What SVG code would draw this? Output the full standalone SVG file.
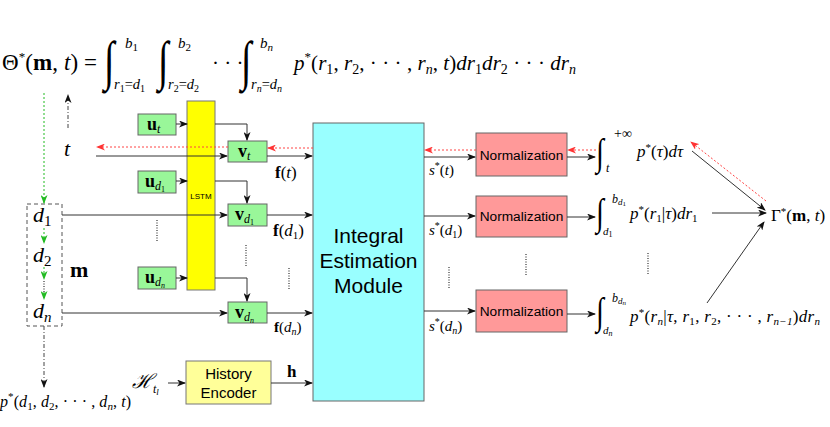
<svg xmlns="http://www.w3.org/2000/svg" width="830" height="427" viewBox="0 0 830 427">
<style>
.m{font-family:"Liberation Serif","Times New Roman",serif;font-style:italic;fill:#000}
.r{font-style:normal}
.b{font-weight:bold;font-style:normal}
.s{font-family:"Liberation Sans",Arial,sans-serif;fill:#000}
.int{font-family:"Liberation Serif",serif;font-style:normal;fill:#000}
.ln{stroke:#333;stroke-width:1;fill:none}
.red{stroke:#FF4444;stroke-width:1;stroke-dasharray:2,2;fill:none}
.grn{stroke:#22BB22;stroke-width:1;stroke-dasharray:2,2;fill:none}
.dd{stroke:#444;stroke-width:1;stroke-dasharray:4,2,1,2;fill:none}
.dots{stroke:#333;stroke-width:1.2;stroke-dasharray:1,1.5;fill:none}
.gbox{fill:#99F799;stroke:#666;stroke-width:1}
.nbox{fill:#FF9999;stroke:#666;stroke-width:1}
</style>
<defs>
<marker id="ah" markerWidth="9" markerHeight="7" refX="8" refY="3.5" orient="auto" markerUnits="userSpaceOnUse"><path d="M0,0 L9,3.5 L0,7 L2.5,3.5 z" fill="#111"/></marker>
<marker id="ahr" markerWidth="9" markerHeight="7" refX="8" refY="3.5" orient="auto" markerUnits="userSpaceOnUse"><path d="M0,0 L9,3.5 L0,7 L2.5,3.5 z" fill="#FF3333"/></marker>
<marker id="ahg" markerWidth="9" markerHeight="7" refX="8" refY="3.5" orient="auto" markerUnits="userSpaceOnUse"><path d="M0,0 L9,3.5 L0,7 L2.5,3.5 z" fill="#22BB22"/></marker>
</defs>

<!-- top formula -->
<g id="formula-theta">
<text class="m" x="2" y="70" font-size="23" textLength="95" lengthAdjust="spacing"><tspan class="r">Θ</tspan><tspan class="r" font-size="13" dy="-9">*</tspan><tspan class="r" dy="9">(</tspan><tspan class="b">m</tspan><tspan class="r">, </tspan>t<tspan class="r">) =</tspan></text>
<text class="int" transform="translate(104,78.5) scale(0.8,1.13)" font-size="48">∫</text>
<text class="m" x="125" y="48" font-size="15">b<tspan class="r" font-size="11" dy="3">1</tspan></text>
<text class="m" x="114" y="89" font-size="14.5">r<tspan class="r" font-size="10" dy="3">1</tspan><tspan class="r" dy="-3">=</tspan>d<tspan class="r" font-size="10" dy="3">1</tspan></text>
<text class="int" transform="translate(158,78.5) scale(0.8,1.13)" font-size="48">∫</text>
<text class="m" x="178" y="48" font-size="15">b<tspan class="r" font-size="11" dy="3">2</tspan></text>
<text class="m" x="168" y="89" font-size="14.5">r<tspan class="r" font-size="10" dy="3">2</tspan><tspan class="r" dy="-3">=</tspan>d<tspan class="r" font-size="10" dy="3">2</tspan></text>
<text class="m r" x="212" y="70" font-size="21">· · ·</text>
<text class="int" transform="translate(241,78.5) scale(0.8,1.13)" font-size="48">∫</text>
<text class="m" x="260" y="48" font-size="15">b<tspan font-size="11" dy="3">n</tspan></text>
<text class="m" x="251" y="89" font-size="14.5">r<tspan font-size="10" dy="3">n</tspan><tspan class="r" dy="-3">=</tspan>d<tspan font-size="10" dy="3">n</tspan></text>
<text class="m" x="294" y="70" font-size="21" textLength="282" lengthAdjust="spacing">p<tspan class="r" font-size="13" dy="-9">*</tspan><tspan class="r" dy="9">(</tspan>r<tspan class="r" font-size="14" dy="4">1</tspan><tspan class="r" dy="-4">, </tspan>r<tspan class="r" font-size="14" dy="4">2</tspan><tspan class="r" dy="-4">, · · · , </tspan>r<tspan font-size="14" dy="4">n</tspan><tspan class="r" dy="-4">, </tspan>t<tspan class="r">)</tspan>dr<tspan class="r" font-size="14" dy="4">1</tspan><tspan dy="-4">dr</tspan><tspan class="r" font-size="14" dy="4">2</tspan><tspan class="r" dy="-4"> · · · </tspan>dr<tspan font-size="14" dy="4">n</tspan></text>
</g>

<!-- left variables -->
<g id="var-t"><text class="m" x="64" y="156" font-size="22">t</text></g>
<g id="var-m">
<rect x="27" y="204" width="35" height="122" fill="none" stroke="#555" stroke-dasharray="4,3"/>
<text class="m" x="33" y="222" font-size="22">d<tspan class="r" font-size="15" dy="4">1</tspan></text>
<text class="m" x="33" y="262" font-size="22">d<tspan class="r" font-size="15" dy="4">2</tspan></text>
<text class="m" x="33" y="318" font-size="22">d<tspan font-size="15" dy="4">n</tspan></text>
<text class="m b" x="70" y="277" font-size="22">m</text>
</g>
<g id="joint-p"><text class="m" x="0" y="407" font-size="16" textLength="131" lengthAdjust="spacing">p<tspan class="r" font-size="11" dy="-7">*</tspan><tspan class="r" dy="7">(</tspan>d<tspan class="r" font-size="11" dy="3">1</tspan><tspan class="r" dy="-3">, </tspan>d<tspan class="r" font-size="11" dy="3">2</tspan><tspan class="r" dy="-3">, · · · , </tspan>d<tspan font-size="11" dy="3">n</tspan><tspan class="r" dy="-3">, </tspan>t<tspan class="r">)</tspan></text></g>

<!-- embeddings -->
<g id="u-t"><rect class="gbox" x="138" y="114" width="38" height="21"/><text class="m" x="147" y="130" font-size="18"><tspan class="b">u</tspan><tspan font-size="12" dy="3">t</tspan></text></g>
<g id="u-d1"><rect class="gbox" x="138" y="171" width="38" height="22"/><text class="m" x="145" y="187" font-size="18"><tspan class="b">u</tspan><tspan font-size="12" dy="3">d</tspan><tspan class="r" font-size="8" dy="2">1</tspan></text></g>
<g id="u-dn"><rect class="gbox" x="138" y="267" width="38" height="22"/><text class="m" x="145" y="283" font-size="18"><tspan class="b">u</tspan><tspan font-size="12" dy="3">d</tspan><tspan font-size="8" dy="2">n</tspan></text></g>
<g id="lstm"><rect x="187" y="101" width="28" height="189" fill="#FFFF00" stroke="#777"/><text class="s" x="201" y="199" font-size="8" text-anchor="middle">LSTM</text></g>
<g id="v-t"><rect class="gbox" x="228" y="141" width="39" height="21"/><text class="m" x="238" y="157" font-size="18"><tspan class="b">v</tspan><tspan font-size="12" dy="3">t</tspan></text></g>
<g id="v-d1"><rect class="gbox" x="228" y="204" width="39" height="22"/><text class="m" x="235" y="220" font-size="18"><tspan class="b">v</tspan><tspan font-size="12" dy="3">d</tspan><tspan class="r" font-size="8" dy="2">1</tspan></text></g>
<g id="v-dn"><rect class="gbox" x="228" y="302" width="39" height="21"/><text class="m" x="235" y="318" font-size="18"><tspan class="b">v</tspan><tspan font-size="12" dy="3">d</tspan><tspan font-size="8" dy="2">n</tspan></text></g>

<g id="history-input"><text class="m" x="132" y="388" font-family="DejaVu Serif" font-size="20">ℋ<tspan font-size="12" dy="5">t</tspan><tspan font-size="9" dy="2">l</tspan></text></g>
<g id="history-encoder"><rect x="186" y="361" width="85" height="43" fill="#FFFF99" stroke="#777"/><text class="s" x="228.5" y="379" font-size="15" text-anchor="middle">History</text><text class="s" x="228.5" y="398" font-size="15" text-anchor="middle">Encoder</text></g>

<g id="module"><rect x="313" y="123" width="111" height="278" fill="#99FFFF" stroke="#666"/>
<text class="s" x="368.5" y="243" font-size="21" text-anchor="middle">Integral</text>
<text class="s" x="368.5" y="268" font-size="21" text-anchor="middle">Estimation</text>
<text class="s" x="368.5" y="293" font-size="21" text-anchor="middle">Module</text></g>

<g id="norm-1"><rect class="nbox" x="476" y="133" width="91" height="43"/><text class="s" x="521.5" y="160" font-size="13.7" text-anchor="middle">Normalization</text></g>
<g id="norm-2"><rect class="nbox" x="476" y="196" width="91" height="41"/><text class="s" x="521.5" y="221" font-size="13.7" text-anchor="middle">Normalization</text></g>
<g id="norm-3"><rect class="nbox" x="476" y="290" width="91" height="42"/><text class="s" x="521.5" y="316" font-size="13.7" text-anchor="middle">Normalization</text></g>

<!-- right integrals -->
<g id="int-t">
<text class="int" transform="translate(596,165) scale(0.7,0.95)" font-size="40">∫</text>
<text class="m r" x="614" y="138" font-size="14">+∞</text>
<text class="m" x="606" y="172" font-size="12">t</text>
<text class="m" x="637" y="157" font-size="17">p<tspan class="r" font-size="11" dy="-6">*</tspan><tspan class="r" dy="6">(</tspan>τ<tspan class="r">)</tspan>dτ</text>
</g>
<g id="int-d1">
<text class="int" transform="translate(596,225) scale(0.7,0.95)" font-size="40">∫</text>
<text class="m" x="612" y="203" font-size="12">b<tspan font-size="9" dy="2">d</tspan><tspan class="r" font-size="7" dy="1">1</tspan></text>
<text class="m" x="603" y="235" font-size="11">d<tspan class="r" font-size="8" dy="2">1</tspan></text>
<text class="m" x="630" y="219" font-size="17">p<tspan class="r" font-size="11" dy="-6">*</tspan><tspan class="r" dy="6">(</tspan>r<tspan class="r" font-size="11" dy="3">1</tspan><tspan class="r" dy="-3">|</tspan>τ<tspan class="r">)</tspan>dr<tspan class="r" font-size="11" dy="3">1</tspan></text>
</g>
<g id="int-dn">
<text class="int" transform="translate(596,324) scale(0.7,0.95)" font-size="40">∫</text>
<text class="m" x="612" y="302" font-size="12">b<tspan font-size="9" dy="2">d</tspan><tspan font-size="7" dy="1">n</tspan></text>
<text class="m" x="603" y="334" font-size="11">d<tspan font-size="8" dy="2">n</tspan></text>
<text class="m" x="630" y="322" font-size="17" textLength="190" lengthAdjust="spacing">p<tspan class="r" font-size="11" dy="-6">*</tspan><tspan class="r" dy="6">(</tspan>r<tspan font-size="11" dy="3">n</tspan><tspan class="r" dy="-3">|</tspan>τ<tspan class="r">, </tspan>r<tspan class="r" font-size="11" dy="3">1</tspan><tspan class="r" dy="-3">, </tspan>r<tspan class="r" font-size="11" dy="3">2</tspan><tspan class="r" dy="-3">, · · · , </tspan>r<tspan font-size="11" dy="3">n−1</tspan><tspan class="r" dy="-3">)</tspan>dr<tspan font-size="11" dy="3">n</tspan></text>
</g>
<g id="gamma"><text class="m" x="771" y="221" font-size="17"><tspan class="r">Γ</tspan><tspan class="r" font-size="11" dy="-6">*</tspan><tspan class="r" dy="6">(</tspan><tspan class="b">m</tspan><tspan class="r">, </tspan>t<tspan class="r">)</tspan></text></g>

<!-- labels on edges -->
<g id="edge-labels">
<text class="m" x="275" y="178" font-size="17"><tspan class="b">f</tspan><tspan class="r">(</tspan>t<tspan class="r">)</tspan></text>
<text class="m" x="273" y="236" font-size="17"><tspan class="b">f</tspan><tspan class="r">(</tspan>d<tspan class="r" font-size="11" dy="3">1</tspan><tspan class="r" dy="-3">)</tspan></text>
<text class="m" x="274" y="332" font-size="15"><tspan class="b">f</tspan><tspan class="r">(</tspan>d<tspan font-size="10" dy="3">n</tspan><tspan class="r" dy="-3">)</tspan></text>
<text class="m b" x="287" y="377" font-size="17">h</text>
<text class="m" x="429" y="175" font-size="15">s<tspan class="r" font-size="10" dy="-6">*</tspan><tspan class="r" dy="6">(</tspan>t<tspan class="r">)</tspan></text>
<text class="m" x="429" y="235" font-size="15">s<tspan class="r" font-size="10" dy="-6">*</tspan><tspan class="r" dy="6">(</tspan>d<tspan class="r" font-size="10" dy="3">1</tspan><tspan class="r" dy="-3">)</tspan></text>
<text class="m" x="429" y="331" font-size="15">s<tspan class="r" font-size="10" dy="-6">*</tspan><tspan class="r" dy="6">(</tspan>d<tspan font-size="10" dy="3">n</tspan><tspan class="r" dy="-3">)</tspan></text>
</g>

<!-- connectors -->
<g id="connectors">
<line class="grn" x1="44" y1="93" x2="44" y2="203" marker-end="url(#ahg)"/>
<line class="grn" x1="44" y1="228" x2="44" y2="243" marker-end="url(#ahg)"/>
<line class="grn" x1="44" y1="267" x2="44" y2="279" marker-end="url(#ahg)"/>
<line class="dots" x1="44" y1="281" x2="44" y2="292"/>
<line class="grn" x1="44" y1="292" x2="44" y2="299" marker-end="url(#ahg)"/>
<line class="dd" x1="68" y1="128" x2="68" y2="95" marker-end="url(#ah)"/>
<line class="dd" x1="44" y1="326" x2="44" y2="387" marker-end="url(#ah)"/>

<line class="ln" x1="176" y1="124" x2="187" y2="124" marker-end="url(#ah)"/>
<line class="ln" x1="176" y1="181" x2="187" y2="181" marker-end="url(#ah)"/>
<line class="ln" x1="176" y1="278" x2="187" y2="278" marker-end="url(#ah)"/>
<path class="ln" d="M215,124 H247 V140" marker-end="url(#ah)"/>
<path class="ln" d="M215,181 H247 V203" marker-end="url(#ah)"/>
<path class="ln" d="M215,278 H247 V301" marker-end="url(#ah)"/>

<line class="ln" x1="96" y1="156" x2="227" y2="156" marker-end="url(#ah)"/>
<line class="red" x1="228" y1="147" x2="97" y2="147" marker-end="url(#ahr)"/>
<line class="red" x1="313" y1="148" x2="268" y2="148" marker-end="url(#ahr)"/>
<line class="ln" x1="62" y1="215" x2="227" y2="215" marker-end="url(#ah)"/>
<line class="ln" x1="62" y1="313" x2="227" y2="313" marker-end="url(#ah)"/>

<line class="ln" x1="267" y1="156" x2="312" y2="156" marker-end="url(#ah)"/>
<line class="ln" x1="267" y1="215" x2="312" y2="215" marker-end="url(#ah)"/>
<line class="ln" x1="267" y1="313" x2="312" y2="313" marker-end="url(#ah)"/>
<line class="ln" x1="168" y1="383" x2="185" y2="383" marker-end="url(#ah)"/>
<line class="ln" x1="271" y1="383" x2="312" y2="383" marker-end="url(#ah)"/>

<line class="ln" x1="424" y1="157" x2="475" y2="157" marker-end="url(#ah)"/>
<line class="red" x1="476" y1="150" x2="425" y2="150" marker-end="url(#ahr)"/>
<line class="ln" x1="424" y1="216" x2="475" y2="216" marker-end="url(#ah)"/>
<line class="ln" x1="424" y1="311" x2="475" y2="311" marker-end="url(#ah)"/>

<line class="ln" x1="567" y1="157" x2="595" y2="157" marker-end="url(#ah)"/>
<line class="red" x1="596" y1="150" x2="568" y2="150" marker-end="url(#ahr)"/>
<line class="ln" x1="567" y1="217" x2="595" y2="217" marker-end="url(#ah)"/>
<line class="ln" x1="567" y1="314" x2="595" y2="314" marker-end="url(#ah)"/>

<line class="ln" x1="692" y1="151" x2="765" y2="210" marker-end="url(#ah)"/>
<line class="ln" x1="712" y1="213" x2="766" y2="213" marker-end="url(#ah)"/>
<line class="ln" x1="707" y1="303" x2="764" y2="222" marker-end="url(#ah)"/>
<line class="red" x1="766" y1="201" x2="691" y2="142" marker-end="url(#ahr)"/>

<line class="dots" x1="157" y1="220" x2="157" y2="242"/>
<line class="dots" x1="246" y1="245" x2="246" y2="266"/>
<line class="dots" x1="289" y1="268" x2="289" y2="289"/>
<line class="dots" x1="449" y1="267" x2="449" y2="288"/>
<line class="dots" x1="526" y1="254" x2="526" y2="275"/>
<line class="dots" x1="648" y1="253" x2="648" y2="274"/>
</g>
</svg>
